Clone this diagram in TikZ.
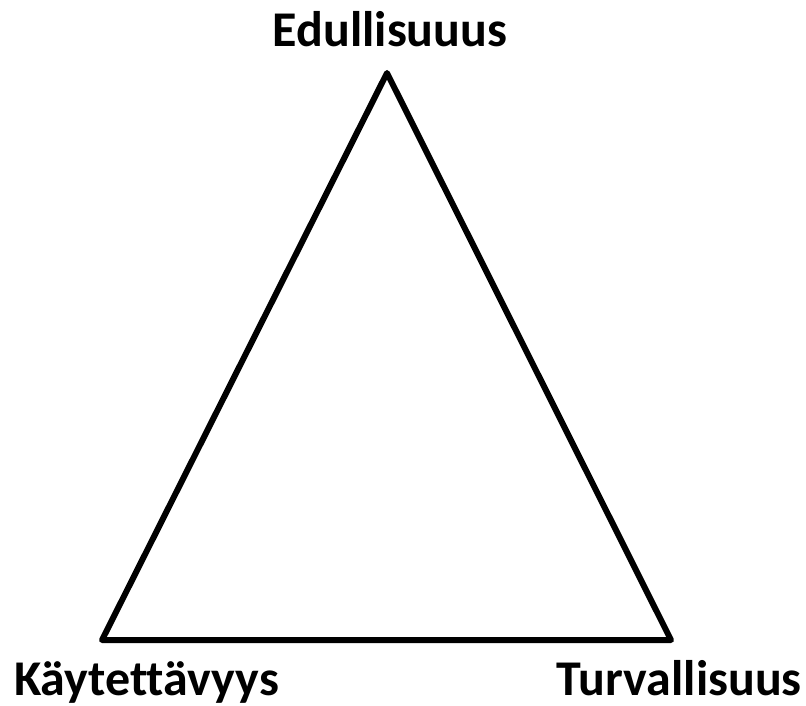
\documentclass[tikz,border=0pt]{standalone}
\usepackage{fontspec}
\setmainfont[Ligatures=NoCommon]{Carlito}
\begin{document}
\begin{tikzpicture}[x=1pt,y=-1pt,
  lbl/.style={font=\fontsize{50}{56}\selectfont\bfseries, inner sep=0pt},
  edge/.style={line width=6pt, line join=round}]
\useasboundingbox (0,0) rectangle (806,706);
\coordinate (top) at (387,73);
\coordinate (bl) at (102,640);
\coordinate (br) at (671,640);
\draw[edge] (top) -- (bl) -- (br) -- cycle;
\node[lbl, anchor=base] (e) at (390,47) {Edullisuuus};
\node[lbl, anchor=base west] (k) at (14,695) {Käytettävyys};
\node[lbl, anchor=base east] (t) at (802,695) {Turvallisuus};
\end{tikzpicture}
\end{document}
